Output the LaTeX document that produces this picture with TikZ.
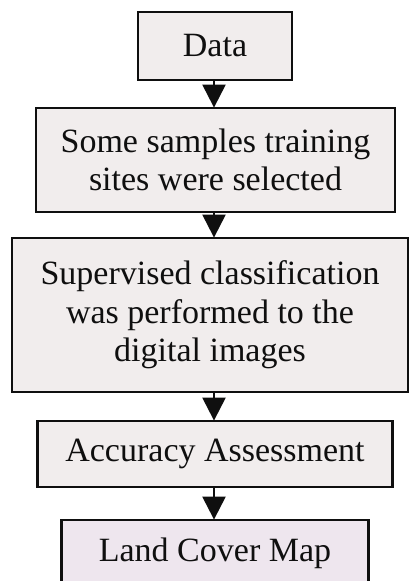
\documentclass[tikz,border=0pt]{standalone}
\usepackage{fontspec}
\setmainfont{Liberation Serif}
\usetikzlibrary{arrows.meta}
\definecolor{boxfill}{RGB}{241,237,237}
\definecolor{mapfill}{RGB}{238,230,238}
\definecolor{ink}{RGB}{15,15,15}
\begin{document}
\begin{tikzpicture}[x=1pt,y=-1pt,
  stepbox/.style={draw=ink, line width=2.8pt, fill=boxfill, text=ink,
    align=center, inner sep=0pt,
    font=\fontsize{34}{38.5}\selectfont},
  flow/.style={draw=ink, line width=2.2pt,
    -{Triangle[width=23pt,length=23pt]}, shorten >=-1pt}
]
\useasboundingbox (0,0) rectangle (410,581);
\fill[white] (0,0) rectangle (410,581);

\node[stepbox, minimum width=154pt, minimum height=68pt] (data) at (215,46) {Data};
\node[stepbox, minimum width=359pt, minimum height=104pt] (sites) at (215.5,160)
  {Some samples training\\sites were selected};
\node[stepbox, minimum width=396pt, minimum height=154pt] (class) at (210,315)
  {Supervised classification\\was performed to the\\digital images};
\node[stepbox, minimum width=355pt, minimum height=66pt] (acc) at (215,454)
  {Accuracy Assessment};
\node[stepbox, fill=mapfill, minimum width=307pt, minimum height=72pt] (map) at (215,556)
  {\raisebox{12pt}{Land Cover Map}};

\draw[flow] (data.south -| 214,0) -- (sites.north -| 214,0);
\draw[flow] (sites.south -| 214,0) -- (class.north -| 214,0);
\draw[flow] (class.south -| 214,0) -- (acc.north -| 214,0);
\draw[flow] (acc.south -| 214,0) -- (map.north -| 214,0);
\end{tikzpicture}
\end{document}
